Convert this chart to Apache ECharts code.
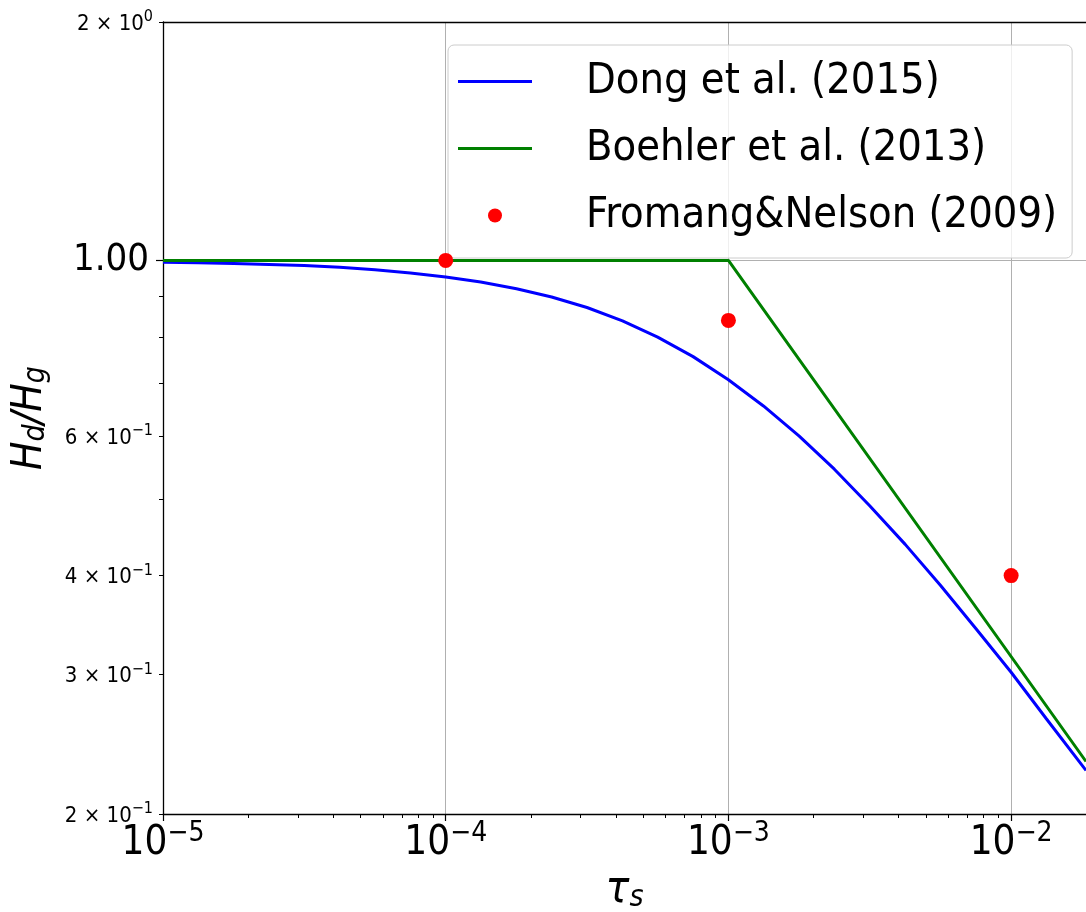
<!DOCTYPE html>
<html>
<head>
<meta charset="utf-8">
<script src="https://cdn.jsdelivr.net/npm/echarts@6/dist/echarts.min.js"></script>
<style>
html,body{margin:0;padding:0;background:#fff;}
#c{width:1086px;height:912px;}
</style>
</head>
<body>
<div id="c"></div>
<script>
// ---- data ----
const tauDong = [1e-5, 1.33e-5, 1.78e-5, 2.37e-5, 3.16e-5, 4.22e-5, 5.62e-5, 7.5e-5,
                 1e-4, 1.33e-4, 1.78e-4, 2.37e-4, 3.16e-4, 4.22e-4, 5.62e-4, 7.5e-4,
                 1e-3, 1.33e-3, 1.78e-3, 2.37e-3, 3.16e-3, 4.22e-3, 5.62e-3, 7.5e-3,
                 1e-2, 1.33e-2, 1.84e-2];
const hDong   = [0.995, 0.993, 0.991, 0.988, 0.985, 0.980, 0.973, 0.964,
                 0.953, 0.939, 0.921, 0.899, 0.872, 0.839, 0.800, 0.756,
                 0.707, 0.655, 0.600, 0.545, 0.490, 0.438, 0.389, 0.343,
                 0.302, 0.264, 0.227];
const tauBoehler = [1e-5, 1e-3, 1.84e-2];
const hBoehler   = [1.0, 1.0, 0.233];
const tauFN = [1e-4, 1e-3, 1e-2];
const hFN   = [1.0, 0.84, 0.40];
const seriesNames = ['Dong et al. (2015)', 'Boehler et al. (2013)', 'Fromang&Nelson (2009)'];
const xMajorTicks = [1e-5, 1e-4, 1e-3, 1e-2];
const xMinorTicks = [2e-5,3e-5,4e-5,5e-5,6e-5,7e-5,8e-5,9e-5,2e-4,3e-4,4e-4,5e-4,6e-4,7e-4,8e-4,9e-4,2e-3,3e-3,4e-3,5e-3,6e-3,7e-3,8e-3,9e-3];
const yMajorTicks = [1.0];
const yMajorLabels = ['1.00'];
const yMinorTicks = [0.2,0.3,0.4,0.5,0.6,0.7,0.8,0.9,2.0];
const yMinorLabelValues = [0.2,0.3,0.4,0.6,2.0];
const xRange = [1e-5, 1.84e-2];
const yRange = [0.2, 2.0];

const FONT = "'DejaVu Sans Condensed', 'DejaVu Sans', sans-serif";
const MINUS = '\u2212';
const LINE_ICON = 'path://M0,0 L74,0 L74,3 L0,3 Z';

function zip(a,b){return a.map((v,i)=>[v,b[i]]);}
function expOf(v){return Math.floor(Math.log10(v)+1e-9);}

const chart = echarts.init(document.getElementById('c'), null, {renderer:'canvas'});
const option = {
  backgroundColor:'#ffffff',
  animation:false,
  textStyle:{fontFamily:FONT,color:'#000'},
  grid:{left:163,right:0,top:22,bottom:98,containLabel:false,outerBoundsMode:'none'},
  legend:{
    left:448, top:45, orient:'vertical',
    data:[{name:seriesNames[0],icon:LINE_ICON,itemStyle:{color:'#0000ff'}},
          {name:seriesNames[1],icon:LINE_ICON,itemStyle:{color:'#008000'}},
          {name:seriesNames[2],icon:'circle',itemStyle:{color:'#ff0000',opacity:1}}],
    itemWidth:74, itemHeight:14, itemGap:24,
    padding:[15,15,21,10],
    borderColor:'#cccccc', borderWidth:1, borderRadius:6,
    backgroundColor:'rgba(255,255,255,0.8)',
    textStyle:{fontFamily:FONT,fontSize:43,color:'#000',lineHeight:40,padding:[0,0,0,49]}
  },
  xAxis:[
    {type:'log',logBase:10,min:xRange[0],max:xRange[1],position:'bottom',
     axisLine:{show:true,onZero:false,lineStyle:{color:'#000',width:1.3}},
     axisTick:{show:true,customValues:xMajorTicks,length:7,lineStyle:{color:'#000',width:1.2}},
     axisLabel:{show:true,customValues:xMajorTicks,margin:6,
       formatter:function(v){const e=Math.round(Math.log10(v));return '{b|10}{s|'+(e<0?MINUS:'')+Math.abs(e)+'}';},
       rich:{b:{fontFamily:FONT,fontSize:40,color:'#000',verticalAlign:'bottom',lineHeight:44},
             s:{fontFamily:FONT,fontSize:28,color:'#000',verticalAlign:'top',lineHeight:44}}},
     splitLine:{show:true,lineStyle:{color:'#b0b0b0',width:1}},
     name:'{t|τ}{s|s}', nameLocation:'middle', nameGap:50,
     nameTextStyle:{rich:{t:{fontFamily:FONT,fontSize:44,fontStyle:'italic',color:'#000',verticalAlign:'bottom',lineHeight:48},
                          s:{fontFamily:FONT,fontSize:30,fontStyle:'italic',color:'#000',verticalAlign:'bottom',lineHeight:40}}}},
    {type:'log',logBase:10,min:xRange[0],max:xRange[1],position:'bottom',
     axisLine:{show:false},
     axisTick:{show:true,customValues:xMinorTicks,length:4,lineStyle:{color:'#000',width:1}},
     axisLabel:{show:false},splitLine:{show:false}},
    {type:'log',logBase:10,min:xRange[0],max:xRange[1],position:'top',
     axisLine:{show:true,lineStyle:{color:'#000',width:1.3}},
     axisTick:{show:false},axisLabel:{show:false},splitLine:{show:false}}
  ],
  yAxis:[
    {type:'log',logBase:10,min:yRange[0],max:yRange[1],position:'left',
     axisLine:{show:true,onZero:false,lineStyle:{color:'#000',width:1.3}},
     axisTick:{show:true,customValues:yMajorTicks,length:7,lineStyle:{color:'#000',width:1.2}},
     axisLabel:{show:true,customValues:yMajorTicks,margin:14,fontFamily:FONT,fontSize:38,color:'#000',
       formatter:function(v){const i=yMajorTicks.findIndex(t=>Math.abs(t-v)<1e-6);return i>=0?yMajorLabels[i]:'';}},
     splitLine:{show:true,lineStyle:{color:'#b0b0b0',width:1}},
     name:'{i|H}{s|d}{i|/H}{s|g}', nameLocation:'middle', nameGap:112, nameRotate:90,
     nameTextStyle:{rich:{i:{fontFamily:FONT,fontSize:42,fontStyle:'italic',color:'#000',verticalAlign:'bottom',lineHeight:46},
                          s:{fontFamily:FONT,fontSize:30,fontStyle:'italic',color:'#000',verticalAlign:'bottom',lineHeight:40}}}},
    {type:'log',logBase:10,min:yRange[0],max:yRange[1],position:'left',
     axisLine:{show:false},
     axisTick:{show:true,customValues:yMinorTicks,length:4,lineStyle:{color:'#000',width:1}},
     axisLabel:{show:true,customValues:yMinorLabelValues,margin:10,
       formatter:function(v){const e=expOf(v);const m=Math.round(v/Math.pow(10,e));return '{b|'+m+' \u00d7 10}{s|'+(e<0?MINUS:'')+Math.abs(e)+'}';},
       rich:{b:{fontFamily:FONT,fontSize:22,color:'#000',verticalAlign:'bottom',lineHeight:26},
             s:{fontFamily:FONT,fontSize:16,color:'#000',verticalAlign:'top',lineHeight:26}}},
     splitLine:{show:false}}
  ],
  series:[
    {name:seriesNames[0],type:'line',xAxisIndex:0,yAxisIndex:0,data:zip(tauDong,hDong),
     smooth:false,symbol:'none',lineStyle:{color:'#0000ff',width:3},itemStyle:{color:'#0000ff'},z:3},
    {name:seriesNames[1],type:'line',xAxisIndex:0,yAxisIndex:0,data:zip(tauBoehler,hBoehler),
     symbol:'none',lineStyle:{color:'#008000',width:3},itemStyle:{color:'#008000'},z:4},
    {name:seriesNames[2],type:'scatter',xAxisIndex:0,yAxisIndex:0,data:zip(tauFN,hFN),
     symbol:'circle',symbolSize:15,itemStyle:{color:'#ff0000',opacity:1},z:5}
  ]
};
chart.setOption(option);
</script>
</body>
</html>
